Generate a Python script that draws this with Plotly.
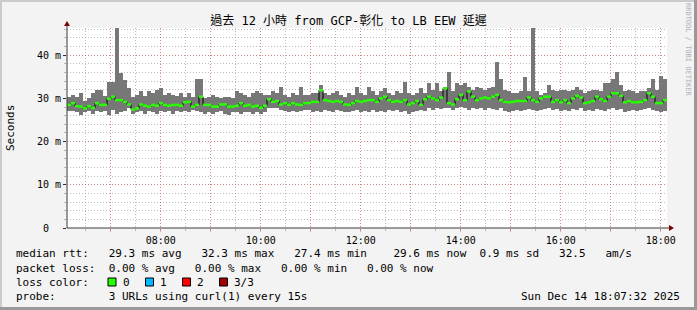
import numpy as np
import pandas as pd
import plotly.graph_objects as go

# ---------------- data (ms) ----------------
rtt_max = [
    30.4, 30.8, 30.4, 31.2, 29.4, 30.0, 31.2, 31.9, 31.9, 30.6, 33.9, 33.9, 46.2, 35.9, 34.2, 32.3, 30.4, 30.8, 31.6, 30.6, 31.6, 31.2, 31.9, 32.3, 30.8, 31.2, 30.8, 30.6, 31.2, 30.4,
    31.2, 30.4, 34.6, 34.6, 30.0, 30.4, 30.8, 30.4, 30.0, 30.4, 30.4, 30.0, 31.6, 31.2, 30.8, 30.4, 31.2, 31.6, 31.2, 30.8, 30.8, 31.6, 31.2, 32.7, 30.8, 30.4, 31.2, 30.8, 32.7, 30.8,
    30.8, 31.2, 31.2, 33.1, 31.2, 30.8, 31.2, 31.6, 30.8, 30.4, 31.2, 30.8, 32.7, 31.2, 30.8, 32.7, 31.6, 30.8, 31.6, 32.3, 31.2, 30.8, 31.6, 31.2, 33.7, 31.2, 30.8, 31.2, 32.3, 31.2,
    33.5, 31.9, 33.5, 31.6, 32.7, 36.2, 31.6, 33.5, 33.1, 33.5, 32.7, 31.9, 32.7, 32.3, 31.9, 32.3, 32.7, 38.5, 34.6, 31.9, 31.6, 31.2, 31.2, 31.6, 35.0, 31.6, 46.4, 31.6, 30.8, 31.2,
    33.1, 31.9, 31.6, 31.9, 31.9, 31.6, 31.9, 32.7, 31.9, 31.2, 31.6, 31.9, 31.9, 31.6, 33.5, 33.5, 34.6, 36.2, 33.1, 31.6, 31.9, 31.6, 31.2, 31.6, 31.6, 32.3, 34.6, 31.9, 35.3, 34.6,
]
rtt_min = [
    27.1, 27.0, 26.8, 26.2, 26.8, 27.1, 26.3, 27.1, 26.8, 27.1, 26.2, 27.3, 26.5, 26.9, 27.1, 27.7, 26.3, 26.8, 27.1, 26.5, 27.1, 26.8, 26.5, 27.1, 26.8, 27.1, 26.5, 27.1, 26.8, 27.1,
    26.9, 27.3, 27.1, 26.8, 26.5, 26.9, 26.5, 26.8, 27.1, 26.5, 26.2, 26.8, 26.9, 26.5, 26.8, 26.9, 26.5, 26.8, 26.5, 26.9, 27.7, 27.7, 27.7, 27.3, 27.1, 26.9, 27.1, 26.8, 27.1, 27.3,
    27.3, 26.9, 27.1, 26.9, 27.3, 27.1, 26.9, 27.3, 27.1, 26.9, 26.8, 27.1, 27.3, 26.9, 27.1, 26.9, 27.3, 26.8, 27.1, 26.9, 27.3, 27.1, 27.3, 26.9, 27.1, 26.5, 26.8, 27.1, 27.3, 27.1,
    27.7, 27.3, 27.7, 27.5, 27.7, 27.7, 27.3, 27.7, 28.1, 27.7, 27.3, 27.7, 27.5, 27.7, 27.3, 27.7, 27.5, 27.3, 27.7, 27.1, 26.8, 27.1, 27.3, 27.1, 27.3, 27.5, 27.3, 27.1, 27.3, 27.5,
    27.7, 27.3, 27.5, 27.1, 27.3, 27.1, 27.5, 27.3, 27.7, 27.1, 27.3, 27.1, 27.5, 27.3, 27.1, 27.5, 27.7, 27.3, 27.5, 26.8, 27.1, 27.3, 27.1, 27.3, 27.5, 27.7, 27.3, 27.1, 26.9, 27.1,
]
rtt_median = [
    28.5, 28.9, 28.2, 28.1, 27.7, 28.2, 27.8, 28.9, 28.5, 28.5, 29.9, 30.4, 29.6, 29.6, 29.2, 28.6, 27.4, 27.7, 28.6, 28.3, 28.1, 28.5, 28.3, 28.9, 28.5, 28.3, 28.5, 28.5, 28.3, 29.1,
    29.2, 28.1, 28.5, 30.4, 28.5, 28.5, 28.1, 28.1, 28.6, 28.6, 28.1, 28.1, 28.3, 28.9, 28.3, 28.5, 28.1, 28.3, 27.8, 28.3, 29.8, 29.2, 29.4, 28.6, 28.9, 28.5, 28.9, 28.6, 28.5, 28.9,
    28.9, 29.2, 29.2, 31.9, 29.6, 29.4, 29.2, 29.4, 29.2, 28.6, 28.5, 28.9, 29.4, 29.2, 29.4, 29.6, 29.6, 29.2, 30.0, 30.4, 29.6, 29.2, 29.4, 29.2, 29.6, 28.6, 28.9, 29.4, 28.5, 29.8,
    30.4, 30.0, 29.6, 30.2, 32.3, 28.9, 28.6, 29.8, 30.8, 29.6, 31.6, 30.4, 29.6, 30.0, 30.2, 30.0, 30.4, 30.8, 29.6, 29.2, 29.1, 29.2, 29.4, 29.4, 29.4, 30.2, 29.6, 29.2, 30.0, 30.4,
    30.4, 29.2, 29.6, 29.1, 29.6, 28.9, 30.0, 30.6, 30.2, 28.9, 29.1, 29.4, 30.4, 29.8, 29.4, 30.4, 31.2, 31.2, 30.6, 29.1, 29.4, 29.1, 29.1, 29.2, 29.6, 31.2, 30.4, 28.9, 28.9, 29.6,
]
y_tick_vals = [0, 10, 20, 30, 40]
y_tick_text = ["0\u00a0\u00a0", "10 m", "20 m", "30 m", "40 m"]
x_label_hours = ["08:00", "10:00", "12:00", "14:00", "16:00", "18:00"]
loss_labels = ["0", "1", "2", "3/3"]
loss_colors = ["#26ff00", "#00b8ff", "#ff0000", "#a00000"]

title = "過去 12 小時 from GCP-彰化 to LB EEW 延遲"
legend_lines = [
    "median rtt:   29.3 ms avg   32.3 ms max   27.4 ms min    29.6 ms now  0.9 ms sd   32.5   am/s",
    "packet loss:  0.00 % avg   0.00 % max   0.00 % min   0.00 % now",
    "loss color:",
    "probe:        3 URLs using curl(1) every 15s",
]
stamp = "Sun Dec 14 18:07:32 2025"

# ---------------- time axis ----------------
step_s = 288
start = pd.Timestamp("2025-12-14 06:07:32")
n = len(rtt_median)
t0 = start + pd.to_timedelta(np.arange(n) * step_s, unit="s")
t1 = t0 + pd.Timedelta(seconds=step_s)
tc = t0 + pd.Timedelta(seconds=step_s / 2)
end = t1[-1]

W, H = 697, 310
L, R, T, B = 67, 30, 28, 82
PW, PH = W - L - R, H - T - B


def px(xp):
    return (xp - L) / PW


def py(yp):
    return (H - B - yp) / PH


def nb(s):
    return s.replace(" ", "\u00a0")


FONT = "DejaVu Sans Mono, Noto Sans CJK TC, monospace"

fig = go.Figure()
lo = np.array(rtt_min)
hi = np.array(rtt_max)
fig.add_trace(go.Bar(x=tc, y=hi - lo, base=lo, width=step_s * 1000,
                     marker=dict(color="#777777", line=dict(width=0)),
                     hoverinfo="skip", showlegend=False))
# black step line (vertical transitions)
fig.add_trace(go.Scatter(x=list(t0) + [end], y=list(rtt_median) + [rtt_median[-1]],
                         mode="lines", line=dict(color="#000000", width=1, shape="hv"),
                         hoverinfo="skip", showlegend=False))
# green median segments
sx, sy = [], []
for a, b, m in zip(t0, t1, rtt_median):
    sx += [a, b, None]
    sy += [m, m, None]
fig.add_trace(go.Scatter(x=sx, y=sy, mode="lines",
                         line=dict(color="#26ff00", width=2.5),
                         hoverinfo="skip", showlegend=False))

hours = pd.date_range("2025-12-14 07:00", "2025-12-14 18:00", freq="1h")
ticktext = [h.strftime("%H:%M") if h.strftime("%H:%M") in x_label_hours else "" for h in hours]

grid_major = "rgba(222,80,80,0.45)"
grid_minor = "rgba(143,143,143,0.6)"
DASH = "1px,2px"

fig.update_layout(
    width=W, height=H,
    margin=dict(l=L, r=R, t=T, b=B),
    paper_bgcolor="#f3f3f3", plot_bgcolor="#ffffff",
    font=dict(family=FONT, color="#000000", size=11),
    bargap=0,
    title=dict(text=title, x=0.5, xanchor="center", y=1 - 21 / H, yanchor="middle",
               yref="container", font=dict(family=FONT, size=12, color="#000000")),
    xaxis=dict(type="date", range=[start, end], tickmode="array",
               tickvals=list(hours), ticktext=ticktext,
               tickfont=dict(size=10, family=FONT),
               showgrid=True, gridcolor=grid_major, griddash=DASH, gridwidth=1,
               ticks="outside", ticklen=3, tickcolor=grid_major,
               minor=dict(dtick=1800000, tick0="2025-12-14 06:00:00", showgrid=True,
                          gridcolor=grid_minor, griddash=DASH, ticks="outside",
                          ticklen=2, tickcolor=grid_minor),
               showline=False, zeroline=False, layer="above traces", fixedrange=True),
    yaxis=dict(range=[0, PH / 4.32], tickmode="array", tickvals=y_tick_vals,
               ticktext=y_tick_text, tickfont=dict(size=10, family=FONT, color="#000000"),
               showgrid=True, gridcolor=grid_major, griddash=DASH, gridwidth=1,
               ticks="outside", ticklen=3, tickcolor="#2c2c2c",
               minor=dict(dtick=2, showgrid=True, gridcolor=grid_minor, griddash=DASH,
                          ticks="outside", ticklen=2, tickcolor=grid_minor),
               showline=False, zeroline=False, layer="above traces", fixedrange=True),
)

shapes = []
# 3D border of the whole image
shapes += [
    dict(type="line", xref="paper", yref="paper", x0=px(0), x1=px(W), y0=py(1), y1=py(1),
         line=dict(color="#cbcbcb", width=2)),
    dict(type="line", xref="paper", yref="paper", x0=px(1), x1=px(1), y0=py(0), y1=py(H),
         line=dict(color="#cbcbcb", width=2)),
    dict(type="line", xref="paper", yref="paper", x0=px(0), x1=px(W), y0=py(H - 1.5), y1=py(H - 1.5),
         line=dict(color="#999999", width=3)),
    dict(type="line", xref="paper", yref="paper", x0=px(W - 1.5), x1=px(W - 1.5), y0=py(0), y1=py(H),
         line=dict(color="#999999", width=3)),
]
# axis lines and arrows
shapes += [
    dict(type="line", xref="paper", yref="paper", x0=px(L), x1=px(L + PW + 5), y0=0, y1=0,
         line=dict(color="#3a3a3a", width=1), layer="above"),
    dict(type="line", xref="paper", yref="paper", x0=0, x1=0, y0=0, y1=py(T - 5),
         line=dict(color="#3a3a3a", width=1), layer="above"),
    dict(type="path", xref="paper", yref="paper",
         path=f"M {px(L - 3)} {py(T - 2)} L {px(L + 3)} {py(T - 2)} L {px(L)} {py(T - 7)} Z",
         fillcolor="#7f0000", line=dict(width=0), layer="above"),
    dict(type="path", xref="paper", yref="paper",
         path=f"M {px(L + PW + 2)} {py(H - B - 3)} L {px(L + PW + 2)} {py(H - B + 3)} L {px(L + PW + 7)} {py(H - B)} Z",
         fillcolor="#7f0000", line=dict(width=0), layer="above"),
]
# loss colour swatches
box_left = [108, 145.5, 182.5, 219.5]
label_left = [123, 160, 197, 234]
row_y = [254, 268, 282, 296]
for bx, c in zip(box_left, loss_colors):
    shapes.append(dict(type="rect", xref="paper", yref="paper",
                       x0=px(bx), x1=px(bx + 8), y0=py(row_y[2] + 4), y1=py(row_y[2] - 4),
                       fillcolor=c, line=dict(color="#000000", width=1)))
fig.update_layout(shapes=shapes)

ann = []
for line, yv in zip(legend_lines, row_y):
    ann.append(dict(text=nb(line), x=px(14), y=py(yv), xref="paper", yref="paper",
                    xanchor="left", yanchor="middle", showarrow=False,
                    font=dict(family=FONT, size=11, color="#000000")))
for lx, lab in zip(label_left, loss_labels):
    ann.append(dict(text=lab, x=px(lx - 2), y=py(row_y[2]), xref="paper", yref="paper",
                    xanchor="left", yanchor="middle", showarrow=False,
                    font=dict(family=FONT, size=11, color="#000000")))
ann.append(dict(text=stamp, x=px(682), y=py(row_y[3]), xref="paper", yref="paper",
                xanchor="right", yanchor="middle", showarrow=False,
                font=dict(family=FONT, size=11, color="#000000")))
ann.append(dict(text="Seconds", x=px(10), y=py(128), xref="paper", yref="paper",
                xanchor="center", yanchor="middle", showarrow=False, textangle=-90,
                font=dict(family=FONT, size=11, color="#000000")))
ann.append(dict(text=nb("RRDTOOL / TOBI OETIKER"), x=px(688), y=py(50), xref="paper", yref="paper",
                xanchor="center", yanchor="middle", showarrow=False, textangle=90,
                font=dict(family=FONT, size=7, color="#b0b0b0")))
fig.update_layout(annotations=ann)

fig.write_html("out.html", config={"displayModeBar": False})
